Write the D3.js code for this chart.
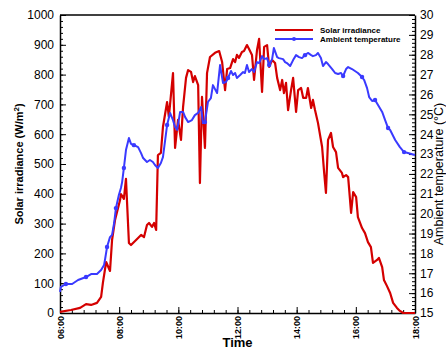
<!DOCTYPE html>
<html><head><meta charset="utf-8">
<script src="https://cdn.jsdelivr.net/npm/d3@7"></script>
<style>
html,body{margin:0;padding:0;background:#fff;}
svg{display:block;font-family:"Liberation Sans",Arial,sans-serif;}
</style></head>
<body><svg id="c" width="446" height="349"></svg>
<script>
// ---- data (time in decimal hours) ----
const solarTime = [6.00,6.37,6.68,6.88,7.05,7.25,7.39,7.45,7.56,7.69,7.76,7.86,8.03,8.06,8.16,8.23,8.33,8.40,8.64,8.74,8.84,8.94,9.01,9.11,9.18,9.25,9.31,9.41,9.48,9.62,9.68,9.82,9.89,9.99,10.09,10.16,10.26,10.33,10.43,10.50,10.56,10.67,10.73,10.80,10.90,10.97,11.07,11.24,11.38,11.48,11.58,11.65,11.75,11.85,11.92,11.98,12.05,12.15,12.22,12.32,12.39,12.49,12.56,12.66,12.73,12.83,12.90,13.00,13.07,13.17,13.27,13.34,13.44,13.51,13.57,13.64,13.71,13.81,13.88,13.98,14.05,14.15,14.22,14.32,14.38,14.49,14.55,14.62,14.72,14.86,14.93,14.99,15.06,15.16,15.23,15.33,15.40,15.53,15.57,15.67,15.74,15.84,15.91,16.01,16.07,16.21,16.31,16.41,16.51,16.58,16.72,16.78,16.89,16.95,17.05,17.16,17.26,17.39,17.49,17.60,18.00];
const solarValue = [4,10,17,30,27,34,54,101,171,141,245,312,379,399,383,450,235,228,252,262,255,295,302,289,302,279,530,537,624,708,658,805,554,648,581,691,789,815,809,775,795,765,436,725,554,805,859,873,879,842,748,819,822,852,842,866,856,876,879,899,886,866,782,883,920,742,893,899,826,849,839,789,748,782,738,772,681,748,789,675,748,755,722,722,755,688,715,681,638,557,470,403,581,604,557,540,487,470,456,463,456,336,406,389,322,285,268,238,221,168,178,185,154,111,91,67,34,17,7,0,0];

const tempTime = [6.00,6.03,6.20,6.41,6.61,6.88,7.05,7.25,7.39,7.49,7.52,7.59,7.69,7.76,7.83,7.89,7.99,8.06,8.10,8.16,8.23,8.33,8.40,8.50,8.64,8.74,8.81,8.94,9.04,9.14,9.21,9.31,9.41,9.48,9.62,9.72,9.82,9.89,9.96,10.06,10.16,10.23,10.33,10.46,10.56,10.67,10.77,10.83,10.90,11.00,11.10,11.17,11.24,11.31,11.41,11.51,11.61,11.68,11.78,11.85,11.92,11.98,12.09,12.19,12.25,12.32,12.39,12.49,12.56,12.66,12.73,12.83,12.90,13.00,13.07,13.17,13.23,13.34,13.40,13.54,13.61,13.67,13.78,13.88,13.98,14.08,14.18,14.28,14.38,14.49,14.55,14.65,14.72,14.82,14.89,14.99,15.06,15.20,15.30,15.40,15.50,15.57,15.67,15.74,15.87,15.97,16.07,16.21,16.28,16.38,16.45,16.55,16.65,16.75,16.89,16.99,17.09,17.16,17.33,17.49,17.63,17.76,18.00];
const tempValue = [16.06,16.31,16.46,16.46,16.66,16.81,16.96,16.96,17.16,17.42,17.67,18.32,18.82,18.93,19.53,20.28,20.94,21.29,21.59,22.30,23.20,23.81,23.51,23.45,23.35,23.05,22.80,22.60,22.70,22.60,22.45,22.30,22.55,22.85,24.46,25.07,24.71,24.36,24.21,25.12,25.12,24.86,24.61,24.71,24.96,25.07,25.37,24.56,24.61,25.62,25.82,26.47,26.27,26.07,27.48,26.58,26.63,26.83,27.18,26.98,27.08,26.83,26.98,27.13,27.08,27.48,27.13,27.28,27.13,27.63,27.58,27.93,27.78,27.83,27.48,27.78,28.34,27.88,27.83,27.78,27.63,27.58,27.43,27.73,27.98,27.88,27.83,27.98,28.09,27.98,27.93,27.98,28.09,27.83,27.43,27.63,27.53,27.28,27.08,27.03,27.08,26.93,27.28,27.38,27.28,27.18,27.08,26.88,26.73,26.32,25.87,25.67,25.72,25.47,25.12,24.71,24.31,24.21,23.71,23.35,23.10,23.05,22.95];
const tempMarkerTimes = [6.20,6.88,7.59,7.89,8.16,8.50,9.62,10.90,11.68,13.07,14.28,15.57,16.21,16.65,17.09,17.63];

const xTicks = [6,8,10,12,14,16,18];
const yLeftTicks = [0,100,200,300,400,500,600,700,800,900,1000];
const yRightTicks = [15,16,17,18,19,20,21,22,23,24,25,26,27,28,29,30];
const seriesNames = ["Solar irradiance","Ambient temperature"];

// ---- layout ----
const L = 60, R = 415, T = 15, B = 313;
const RED = "#d40000", BLUE = "#3a3aff";
const svg = d3.select("#c");
const x = d3.scaleLinear().domain([6,18]).range([L,R]);
const yL = d3.scaleLinear().domain([0,1000]).range([B,T]);
const yR = d3.scaleLinear().domain([15,30]).range([B,T]);
const fmtTime = d => String(d).padStart(2,"0") + ":00";

// minor ticks
svg.append("g").attr("transform",`translate(0,${B})`)
  .call(d3.axisBottom(x).tickValues(d3.range(6,18.001,0.4)).tickSize(-3).tickSizeOuter(0).tickFormat(""))
  .call(g=>g.select(".domain").remove());
svg.append("g").attr("transform",`translate(${L},0)`)
  .call(d3.axisLeft(yL).tickValues(d3.range(0,1000.1,20)).tickSize(-3).tickSizeOuter(0).tickFormat(""))
  .call(g=>g.select(".domain").remove());
svg.append("g").attr("transform",`translate(${R},0)`)
  .call(d3.axisRight(yR).tickValues(d3.range(15,30.001,0.2)).tickSize(-3).tickSizeOuter(0).tickFormat(""))
  .call(g=>g.select(".domain").remove());

// major axes
const gx = svg.append("g").attr("transform",`translate(0,${B})`)
  .call(d3.axisBottom(x).tickValues(xTicks).tickSize(-6).tickSizeOuter(0).tickFormat(fmtTime));
gx.selectAll("text").attr("transform","rotate(-90)").attr("x",-3).attr("y",0).attr("dy","0.35em")
  .attr("text-anchor","end").style("font-size","9px").style("font-weight","bold").attr("fill","#000");

const gl = svg.append("g").attr("transform",`translate(${L},0)`)
  .call(d3.axisLeft(yL).tickValues(yLeftTicks).tickSize(-6).tickSizeOuter(0).tickPadding(6).tickFormat(d3.format("d")));
gl.selectAll("text").style("font-size","12px").attr("fill","#000");

const gr = svg.append("g").attr("transform",`translate(${R},0)`)
  .call(d3.axisRight(yR).tickValues(yRightTicks).tickSize(-6).tickSizeOuter(0).tickPadding(5).tickFormat(d3.format("d")));
gr.selectAll("text").style("font-size","12px").attr("fill","#000");

svg.selectAll(".domain").attr("stroke","#000").attr("stroke-width",1.5);
svg.selectAll(".tick line").attr("stroke","#000").attr("stroke-width",1);
svg.append("line").attr("x1",L).attr("x2",R).attr("y1",T).attr("y2",T).attr("stroke","#000").attr("stroke-width",1.5);

// lines
const solar = solarTime.map((t,i)=>[t,solarValue[i]]);
const temp = tempTime.map((t,i)=>[t,tempValue[i]]);
svg.append("path").datum(solar)
  .attr("d", d3.line().x(d=>x(d[0])).y(d=>yL(d[1])))
  .attr("fill","none").attr("stroke",RED).attr("stroke-width",2.2).attr("stroke-linejoin","round");
svg.append("path").datum(temp)
  .attr("d", d3.line().x(d=>x(d[0])).y(d=>yR(d[1])))
  .attr("fill","none").attr("stroke",BLUE).attr("stroke-width",2).attr("stroke-linejoin","round");
svg.append("g").selectAll("circle")
  .data(temp.filter(d=>tempMarkerTimes.some(t=>Math.abs(t-d[0])<0.005)))
  .join("circle").attr("cx",d=>x(d[0])).attr("cy",d=>yR(d[1])).attr("r",2.2).attr("fill",BLUE);

// legend
const lg = svg.append("g");
[RED,BLUE].forEach((c,i)=>{
  const yy = 30 + i*9;
  lg.append("line").attr("x1",275).attr("x2",313).attr("y1",yy).attr("y2",yy).attr("stroke",c).attr("stroke-width",2);
  if(i===1) lg.append("circle").attr("cx",294).attr("cy",yy).attr("r",2).attr("fill",c);
  lg.append("text").attr("x",320).attr("y",yy).attr("dy","0.35em").text(seriesNames[i])
    .style("font-size","8px").style("font-weight","bold").attr("fill","#000");
});

// titles
svg.append("text").attr("transform",`translate(23,${(T+B)/2}) rotate(-90)`).attr("text-anchor","middle")
  .style("font-size","11px").style("font-weight","bold").attr("fill","#000")
  .html('Solar irradiance (W/m<tspan dy="-4" font-size="8px">2</tspan><tspan dy="4">)</tspan>');
svg.append("text").attr("transform",`translate(443,${(T+B)/2 + 10}) rotate(-90)`).attr("text-anchor","middle")
  .style("font-size","12.5px").attr("fill","#000").text("Ambient temperature (°C)");
svg.append("text").attr("x",(L+R)/2).attr("y",347).attr("text-anchor","middle")
  .style("font-size","13px").style("font-weight","bold").attr("fill","#000").text("Time");
</script></body></html>
